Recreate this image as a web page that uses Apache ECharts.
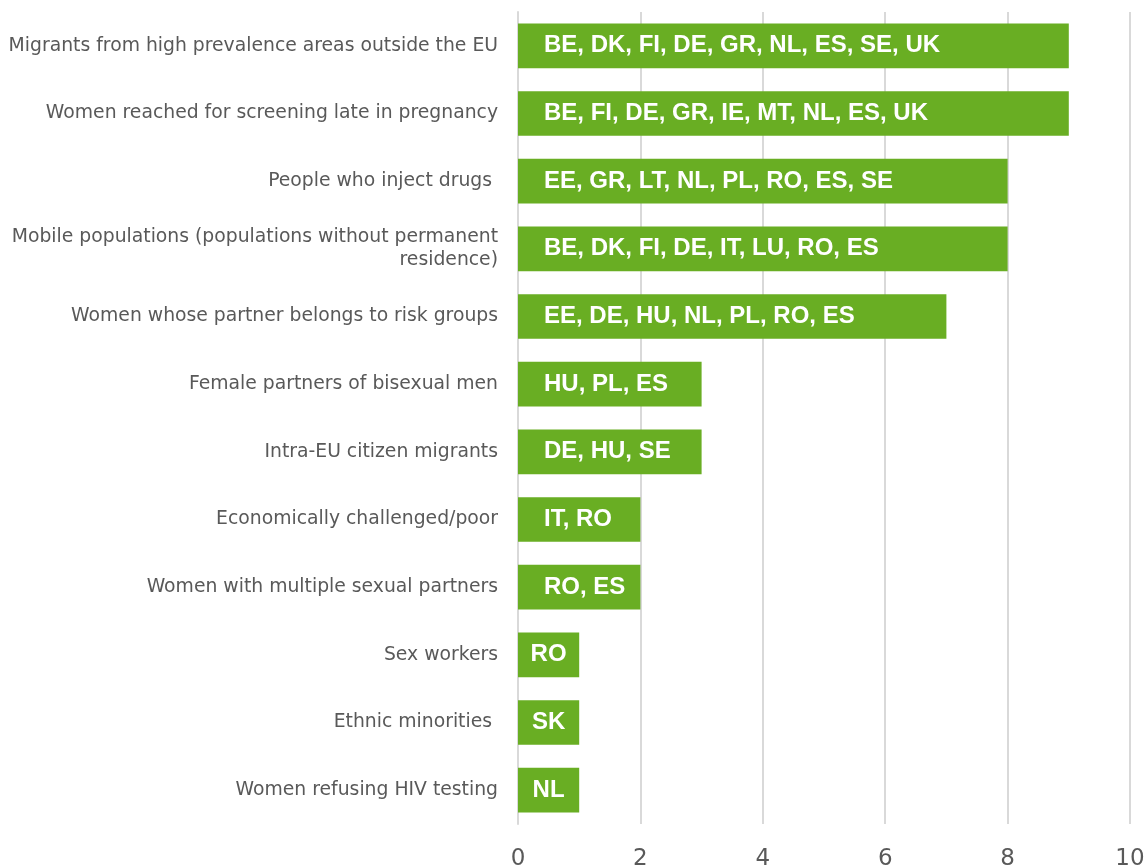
<!DOCTYPE html>
<html><head><meta charset="utf-8">
<script src="https://cdn.jsdelivr.net/npm/echarts@6/dist/echarts.min.js"></script>
<style>html,body{margin:0;padding:0;background:#fff}#c{width:1144px;height:865px}</style>
</head><body><div id="c"></div>
<script>
const categories = [
  "Migrants from high prevalence areas outside the EU",
  "Women reached for screening late in pregnancy",
  "People who inject drugs ",
  "Mobile populations (populations without permanent\nresidence)",
  "Women whose partner belongs to risk groups",
  "Female partners of bisexual men",
  "Intra-EU citizen migrants",
  "Economically challenged/poor",
  "Women with multiple sexual partners",
  "Sex workers",
  "Ethnic minorities ",
  "Women refusing HIV testing"
];
const values = [9, 9, 8, 8, 7, 3, 3, 2, 2, 1, 1, 1];
const countryLabels = [
  "BE, DK, FI, DE, GR, NL, ES, SE, UK",
  "BE, FI, DE, GR, IE, MT, NL, ES, UK",
  "EE, GR, LT, NL, PL, RO, ES, SE",
  "BE, DK, FI, DE, IT, LU, RO, ES",
  "EE, DE, HU, NL, PL, RO, ES",
  "HU, PL, ES",
  "DE, HU, SE",
  "IT, RO",
  "RO, ES",
  "RO",
  "SK",
  "NL"
];
const xTicks = [0, 2, 4, 6, 8, 10];

const chart = echarts.init(document.getElementById('c'));
chart.setOption({
  animation: false,
  grid: {left: 518, right: 14, top: 12, bottom: 41, containLabel: false, outerBoundsMode: 'none'},
  xAxis: {
    type: 'value', min: xTicks[0], max: xTicks[xTicks.length-1], interval: 2,
    axisLine: {show: false}, axisTick: {show: false},
    splitLine: {lineStyle: {color: '#D9D9D9', width: 2}},
    axisLabel: {color: '#595959', fontSize: 23, fontFamily: "'DejaVu Sans', sans-serif", margin: 24}
  },
  yAxis: {
    type: 'category', inverse: true, data: categories,
    axisLine: {show: true, lineStyle: {color: '#D9D9D9', width: 2}},
    axisTick: {show: false},
    axisLabel: {color: '#595959', fontSize: 18.8, fontFamily: "'DejaVu Sans', sans-serif", margin: 20, align: 'right', lineHeight: 23}
  },
  series: [{
    type: 'bar', barWidth: '66%',
    data: values.map((v, i) => ({
      value: v,
      label: v === 1 ? {position: 'inside'} : {}
    })),
    itemStyle: {color: '#69AE23'},
    label: {
      show: true, position: 'insideLeft', distance: 26,
      color: '#fff', fontWeight: 'bold', fontSize: 24, fontFamily: "'Liberation Sans', Arial, sans-serif",
      formatter: p => countryLabels[p.dataIndex]
    }
  }]
});
</script></body></html>
